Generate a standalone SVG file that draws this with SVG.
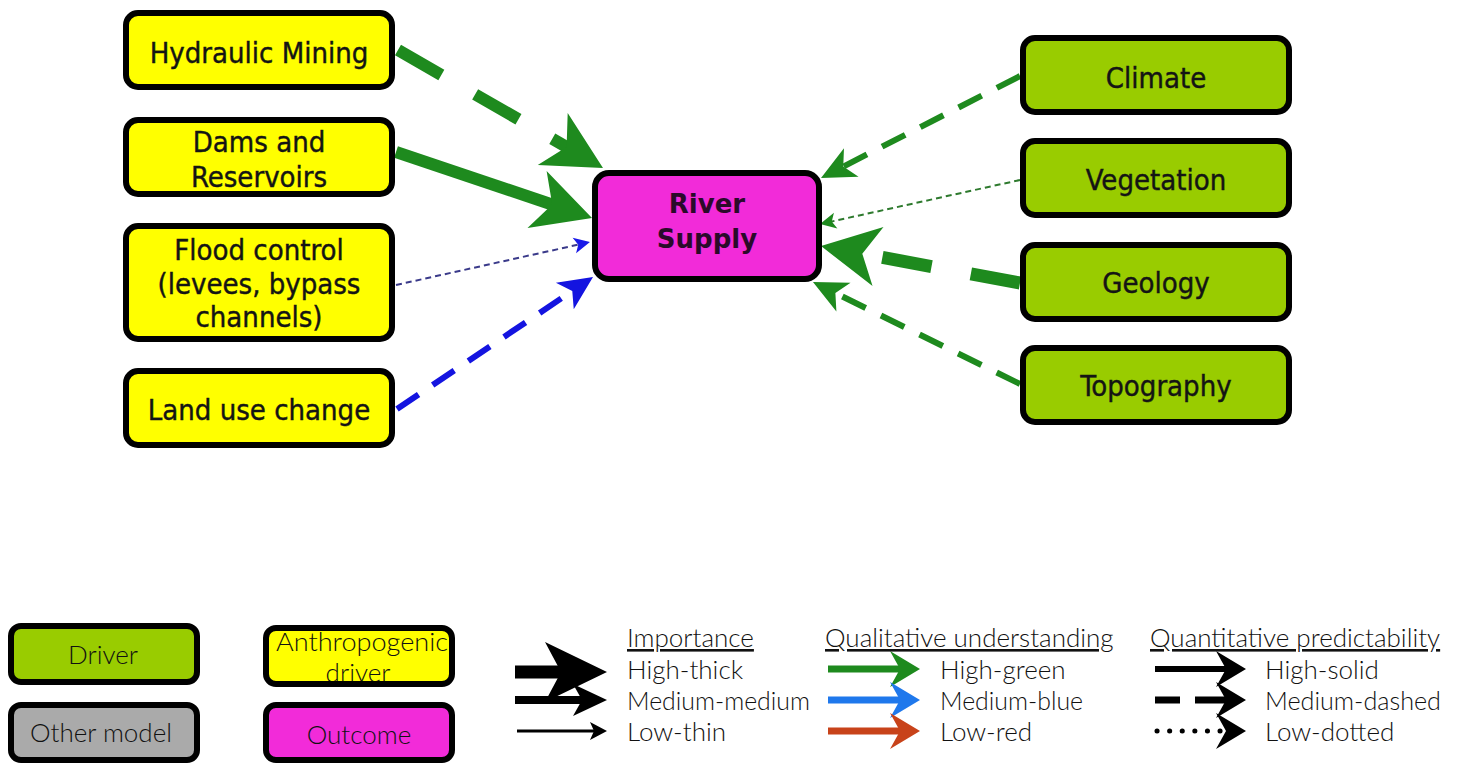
<svg xmlns="http://www.w3.org/2000/svg" width="1460" height="765" viewBox="0 0 1460 765">
<style>
.box{stroke:#000;stroke-width:6}
.yel{fill:#FFFF00}
.grn{fill:#99CC00}
.mag{fill:#F22BD9}
.gry{fill:#AAAAAA}
.nt{font-family:"DejaVu Sans Condensed","DejaVu Sans",sans-serif;font-size:29px;fill:#141414;text-anchor:middle;stroke:#141414;stroke-width:0.4}
.rt{font-family:"DejaVu Sans","Liberation Sans",sans-serif;font-size:26px;font-weight:bold;fill:#2a0a2a;text-anchor:middle}
.lt{font-family:Lato,"Liberation Sans",sans-serif;font-weight:300;font-size:26px;fill:#111}
.lc{text-anchor:middle}
</style>
<defs>
<marker id="gL" markerUnits="userSpaceOnUse" markerWidth="60" markerHeight="62" refX="22" refY="0" orient="auto" overflow="visible"><path d="M0,-30 L58,0 L0,30 L16,0 z" fill="#1e8a1e"/></marker>
<marker id="gM" markerUnits="userSpaceOnUse" markerWidth="36" markerHeight="34" refX="13" refY="0" orient="auto" overflow="visible"><path d="M0,-16 L34,0 L0,16 L9,0 z" fill="#1e8a1e"/></marker>
<marker id="gS" markerUnits="userSpaceOnUse" markerWidth="18" markerHeight="18" refX="6" refY="0" orient="auto" overflow="visible"><path d="M0,-8 L16,0 L0,8 L4,0 z" fill="#1e8a1e"/></marker>
<marker id="bM" markerUnits="userSpaceOnUse" markerWidth="36" markerHeight="34" refX="13" refY="0" orient="auto" overflow="visible"><path d="M0,-16 L34,0 L0,16 L9,0 z" fill="#1414e0"/></marker>
<marker id="bS" markerUnits="userSpaceOnUse" markerWidth="18" markerHeight="18" refX="6" refY="0" orient="auto" overflow="visible"><path d="M0,-8 L16,0 L0,8 L4,0 z" fill="#1a1ae8"/></marker>
<marker id="kL" markerUnits="userSpaceOnUse" markerWidth="64" markerHeight="62" refX="22" refY="0" orient="auto" overflow="visible"><path d="M0,-30 L62,0 L0,30 L16,0 z" fill="#000"/></marker>
<marker id="kM" markerUnits="userSpaceOnUse" markerWidth="36" markerHeight="34" refX="13" refY="0" orient="auto" overflow="visible"><path d="M0,-16 L34,0 L0,16 L9,0 z" fill="#000"/></marker>
<marker id="kS" markerUnits="userSpaceOnUse" markerWidth="18" markerHeight="18" refX="6" refY="0" orient="auto" overflow="visible"><path d="M0,-9 L17,0 L0,9 L4,0 z" fill="#000"/></marker>
<marker id="lG" markerUnits="userSpaceOnUse" markerWidth="32" markerHeight="38" refX="13" refY="0" orient="auto" overflow="visible"><path d="M0,-18 L30,0 L0,18 L10,0 z" fill="#1e8a1e"/></marker>
<marker id="lB" markerUnits="userSpaceOnUse" markerWidth="32" markerHeight="38" refX="13" refY="0" orient="auto" overflow="visible"><path d="M0,-18 L30,0 L0,18 L10,0 z" fill="#1f78ec"/></marker>
<marker id="lR" markerUnits="userSpaceOnUse" markerWidth="32" markerHeight="38" refX="13" refY="0" orient="auto" overflow="visible"><path d="M0,-18 L30,0 L0,18 L10,0 z" fill="#c8431a"/></marker>
<marker id="lK" markerUnits="userSpaceOnUse" markerWidth="32" markerHeight="38" refX="13" refY="0" orient="auto" overflow="visible"><path d="M0,-18 L30,0 L0,18 L10,0 z" fill="#000"/></marker>
</defs>

<g id="connectors">
<line x1="398" y1="50" x2="571.8" y2="150" stroke="#1e8a1e" stroke-width="12" stroke-dasharray="50 39" marker-end="url(#gL)"/>
<line x1="396" y1="152" x2="557.9" y2="206.5" stroke="#1e8a1e" stroke-width="12" marker-end="url(#gL)"/>
<line x1="396" y1="285" x2="580.2" y2="244.2" stroke="#3a3a8a" stroke-width="2" stroke-dasharray="6 4" marker-end="url(#bS)"/>
<line x1="397" y1="409" x2="575.6" y2="288.7" stroke="#1414e0" stroke-width="6" stroke-dasharray="26 17" marker-end="url(#bM)"/>
<line x1="1020" y1="76" x2="839.7" y2="168.4" stroke="#1e8a1e" stroke-width="6" stroke-dasharray="26 17" marker-end="url(#gM)"/>
<line x1="1020" y1="180" x2="829.8" y2="221.9" stroke="#2e7a2e" stroke-width="2" stroke-dasharray="6 4" marker-end="url(#gS)"/>
<line x1="1020" y1="283" x2="856.4" y2="252.6" stroke="#1e8a1e" stroke-width="13" stroke-dasharray="50 40" marker-end="url(#gL)"/>
<line x1="1020" y1="384" x2="831.8" y2="291.3" stroke="#1e8a1e" stroke-width="6" stroke-dasharray="26 17" marker-end="url(#gM)"/>
</g>

<g id="hydraulic-mining"><rect class="box yel" x="126" y="13" width="266" height="74" rx="12"/><text class="nt" x="259" y="63">Hydraulic Mining</text></g>
<g id="dams-reservoirs"><rect class="box yel" x="126" y="120" width="266" height="74" rx="12"/><text class="nt" x="259" y="152">Dams and</text><text class="nt" x="259" y="187">Reservoirs</text></g>
<g id="flood-control"><rect class="box yel" x="126" y="226" width="266" height="113" rx="12"/><text class="nt" x="259" y="260">Flood control</text><text class="nt" x="259" y="294">(levees, bypass</text><text class="nt" x="259" y="327">channels)</text></g>
<g id="land-use-change"><rect class="box yel" x="126" y="371" width="266" height="74" rx="12"/><text class="nt" x="259" y="420">Land use change</text></g>

<g id="river-supply"><rect class="box mag" x="595" y="173" width="224" height="106" rx="14"/><text class="rt" x="707" y="213">River</text><text class="rt" x="707" y="248">Supply</text></g>

<g id="climate"><rect class="box grn" x="1023" y="38" width="266" height="74" rx="12"/><text class="nt" x="1156" y="88">Climate</text></g>
<g id="vegetation"><rect class="box grn" x="1023" y="141" width="266" height="74" rx="12"/><text class="nt" x="1156" y="190">Vegetation</text></g>
<g id="geology"><rect class="box grn" x="1023" y="245" width="266" height="74" rx="12"/><text class="nt" x="1156" y="293">Geology</text></g>
<g id="topography"><rect class="box grn" x="1023" y="348" width="266" height="74" rx="12"/><text class="nt" x="1156" y="396">Topography</text></g>

<g id="legend">
<g id="leg-driver"><rect class="box grn" x="11" y="626" width="186" height="56" rx="10"/><text class="lt lc" x="103" y="664">Driver</text></g>
<g id="leg-other"><rect class="box gry" x="11" y="705" width="186" height="55" rx="10"/><text class="lt lc" x="101" y="742">Other model</text></g>
<g id="leg-anthro"><rect class="yel" x="266" y="628" width="186" height="56" rx="10"/><text class="lt lc" x="362" y="651" textLength="172" lengthAdjust="spacingAndGlyphs">Anthropogenic</text><text class="lt lc" x="358" y="682">driver</text><rect class="box" fill="none" x="266" y="628" width="186" height="56" rx="10"/></g>
<g id="leg-outcome"><rect class="box mag" x="266" y="705" width="186" height="55" rx="10"/><text class="lt lc" x="359" y="744" fill="#3a0a3a">Outcome</text></g>

<line x1="515" y1="672" x2="567" y2="672" stroke="#000" stroke-width="13" marker-end="url(#kL)"/>
<line x1="515" y1="700" x2="586" y2="700" stroke="#000" stroke-width="8" marker-end="url(#kM)"/>
<line x1="517" y1="731" x2="596" y2="731" stroke="#000" stroke-width="3" marker-end="url(#kS)"/>
<text class="lt" x="627" y="647" text-decoration="underline">Importance</text>
<text class="lt" x="627" y="679">High-thick</text>
<text class="lt" x="627" y="710" textLength="183" lengthAdjust="spacingAndGlyphs">Medium-medium</text>
<text class="lt" x="627" y="741">Low-thin</text>

<line x1="828" y1="669" x2="903" y2="669" stroke="#1e8a1e" stroke-width="7" marker-end="url(#lG)"/>
<line x1="828" y1="700" x2="903" y2="700" stroke="#1f78ec" stroke-width="7" marker-end="url(#lB)"/>
<line x1="828" y1="731" x2="903" y2="731" stroke="#c8431a" stroke-width="7" marker-end="url(#lR)"/>
<text class="lt" x="825" y="647" text-decoration="underline">Qualitative understanding</text>
<text class="lt" x="940" y="679">High-green</text>
<text class="lt" x="940" y="710" textLength="143" lengthAdjust="spacingAndGlyphs">Medium-blue</text>
<text class="lt" x="940" y="741">Low-red</text>

<line x1="1155" y1="669" x2="1229" y2="669" stroke="#000" stroke-width="6" marker-end="url(#lK)"/>
<line x1="1155" y1="700" x2="1229" y2="700" stroke="#000" stroke-width="7" stroke-dasharray="25 15 60" marker-end="url(#lK)"/>
<line x1="1157" y1="731" x2="1229" y2="731" stroke="#000" stroke-width="5" stroke-linecap="round" stroke-dasharray="0.1 12.5" marker-end="url(#lK)"/>
<text class="lt" x="1150" y="647" text-decoration="underline">Quantitative predictability</text>
<text class="lt" x="1265" y="679">High-solid</text>
<text class="lt" x="1265" y="710" textLength="176" lengthAdjust="spacingAndGlyphs">Medium-dashed</text>
<text class="lt" x="1265" y="741">Low-dotted</text>
</g>
</svg>
